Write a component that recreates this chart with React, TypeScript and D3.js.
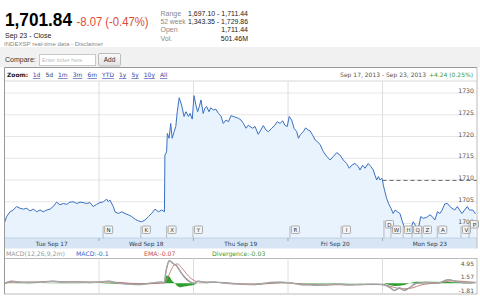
import React from "react";
import * as d3 from "d3";

const lastPrice = "1,701.84";
const changeText = "-8.07 (-0.47%)";
const closeLabel = "Sep 23 - Close";
const sourceLabel = "INDEXSP real-time data - Disclaimer";
const statLabels = ["Range", "52 week", "Open", "Vol."];
const statValues = ["1,697.10 - 1,711.44", "1,343.35 - 1,729.86", "1,711.44", "501.46M"];
const zoomLinks = ["1d", "5d", "1m", "3m", "6m", "YTD", "1y", "5y", "10y", "All"];
const rangeLabel = "Sep 17, 2013 - Sep 23, 2013";
const rangeChange = "+4.24 (0.25%)";
const dayLabels = ["Tue Sep 17", "Wed Sep 18", "Thu Sep 19", "Fri Sep 20", "Mon Sep 23"];
const priceTicks = [1700, 1705, 1710, 1715, 1720, 1725, 1730];
const prevClose = 1709.91;
const macdTicks = [4.95, 1.57, -1.81];
const macdHeader = ["MACD(12,26,9,2m)", "MACD:-0.1", "EMA:-0.07", "Divergence:-0.03"];

// trading minutes since Sep 17 open (390 per session)
const priceMinutes = [
  0, 9, 23, 36, 50, 64, 78, 92, 105, 119, 133, 147, 160, 174, 188, 201, 215, 229, 243, 257,
  270, 284, 298, 312, 325, 339, 353, 366, 380, 394, 408, 422, 428, 435, 449, 456, 470, 484, 497, 511,
  525, 539, 552, 566, 580, 594, 607, 621, 635, 649, 660, 662, 669, 672, 679, 686, 692, 700, 707, 713,
  721, 731, 741, 749, 759, 766, 775, 782, 790, 797, 804, 811, 820, 827, 834, 844, 851, 862, 872, 883,
  894, 903, 914, 924, 935, 944, 955, 965, 976, 986, 997, 1006, 1013, 1024, 1034, 1047, 1058, 1068, 1079, 1089,
  1103, 1116, 1126, 1137, 1148, 1157, 1167, 1175, 1185, 1195, 1206, 1213, 1222, 1233, 1243, 1252, 1261, 1272, 1282, 1291,
  1302, 1316, 1330, 1344, 1357, 1371, 1385, 1398, 1412, 1423, 1433, 1446, 1460, 1467, 1478, 1488, 1501, 1512, 1522, 1529,
  1536, 1543, 1550, 1557, 1560, 1563, 1570, 1577, 1585, 1595, 1604, 1612, 1622, 1632, 1640, 1649, 1663, 1670, 1677, 1687,
  1697, 1708, 1718, 1728, 1742, 1756, 1765, 1776, 1787, 1797, 1806, 1817, 1828, 1838, 1847, 1858, 1869, 1878, 1888, 1899,
  1910, 1919, 1933, 1944,
];
const priceValues = [
  1700.2, 1701.6, 1702.7, 1703.1, 1703.9, 1703.5, 1703.3, 1703.5, 1702.9, 1703.3, 1702.7, 1703.1, 1702.7, 1703.1, 1703.3, 1703.9, 1704.9, 1704.3, 1704.6, 1704.4,
  1704.9, 1705.0, 1704.6, 1704.9, 1704.8, 1704.6, 1704.8, 1703.9, 1704.4, 1704.8, 1705.0, 1705.6, 1705.0, 1705.4, 1703.9, 1702.7, 1702.3, 1702.7, 1702.3, 1702.0,
  1701.6, 1701.0, 1700.6, 1700.4, 1700.8, 1701.6, 1702.3, 1703.3, 1702.7, 1703.1, 1702.7, 1715.7, 1716.5, 1720.7, 1719.6, 1723.0, 1719.6, 1721.1, 1722.3, 1725.7,
  1728.9, 1727.2, 1724.6, 1725.7, 1724.6, 1725.3, 1724.0, 1729.4, 1727.2, 1725.7, 1726.9, 1728.4, 1725.3, 1726.5, 1726.9, 1725.7, 1726.6, 1726.1, 1726.3, 1725.3,
  1724.6, 1723.0, 1723.8, 1723.4, 1724.8, 1724.6, 1724.4, 1724.2, 1723.8, 1723.0, 1721.9, 1722.6, 1722.3, 1721.9, 1722.3, 1720.5, 1721.5, 1722.5, 1721.5, 1721.1,
  1721.9, 1722.6, 1723.4, 1723.0, 1723.6, 1722.6, 1722.3, 1724.6, 1723.8, 1721.9, 1721.1, 1719.6, 1720.5, 1721.1, 1722.0, 1721.5, 1721.3, 1720.3, 1719.2, 1718.8,
  1718.2, 1716.5, 1715.4, 1714.6, 1715.4, 1716.3, 1715.7, 1714.6, 1713.8, 1712.7, 1713.4, 1713.8, 1713.1, 1712.3, 1713.4, 1712.7, 1713.8, 1713.1, 1712.3, 1711.1,
  1710.0, 1710.8, 1710.0, 1710.4, 1710.0, 1708.9, 1707.3, 1705.8, 1704.6, 1703.5, 1702.3, 1703.1, 1702.7, 1702.3, 1700.8, 1699.3, 1698.2, 1697.6, 1699.0, 1700.4,
  1699.5, 1698.9, 1701.6, 1701.2, 1701.4, 1702.0, 1701.6, 1700.8, 1702.7, 1702.3, 1703.1, 1704.5, 1704.6, 1703.9, 1703.5, 1703.1, 1703.9, 1703.1, 1702.3, 1703.1,
  1703.9, 1703.1, 1703.1, 1702.2,
];

const flagLetters = ["N", "K", "X", "Y", "R", "I", "D", "W", "H", "Q", "Z", "A", "V", "P"];
const flagMinutes = [407, 563, 669, 778, 1178, 1389, 1566, 1595, 1645, 1682, 1723, 1786, 1884, 1917];
const flagLevels = [0, 0, 0, 0, 0, 0, 1, 0, 0, 0, 0, 0, 0, 1];

const macdMinutes = [
  0, 30, 60, 100, 150, 200, 250, 300, 350, 390, 430, 470, 520, 560, 600, 640, 660, 665, 672, 680,
  690, 700, 712, 725, 740, 760, 780, 800, 830, 870, 920, 970, 1020, 1060, 1100, 1140, 1180, 1220, 1260, 1300,
  1340, 1380, 1420, 1470, 1520, 1560, 1590, 1610, 1630, 1650, 1670, 1700, 1740, 1790, 1830, 1870, 1910, 1944,
];
const macdValues = [
  0.0, 0.5, 0.3, 0.2, 0.3, 0.5, 0.3, 0.4, 0.2, 0.3, 0.5, 0.0, -0.2, -0.3, 0.0, 0.3, 0.2, 2.5, 4.5, 5.7,
  5.3, 4.8, 4.3, 3.0, 1.8, 0.6, 0.0, 0.5, 0.2, 0.3, 0.0, -0.2, -0.3, -0.1, 0.2, 0.3, 0.1, -0.3, -0.4, -0.5,
  -0.3, -0.2, -0.4, -0.3, -0.2, -0.3, -1.0, -1.8, -1.2, -1.8, -1.2, 0.0, 0.2, 0.1, 0.9, 0.4, 0.1, 0.2,
];
const signalMinutes = [0, 40, 100, 200, 300, 390, 450, 520, 600, 660, 670, 685, 700, 715, 730, 750, 770, 800, 870, 970, 1060, 1140, 1220, 1300, 1420, 1560, 1600, 1640, 1680, 1720, 1790, 1850, 1944];
const signalValues = [0.0, 0.3, 0.3, 0.4, 0.35, 0.3, 0.3, 0.0, -0.1, 0.1, 1.0, 3.0, 4.6, 4.9, 4.0, 2.5, 1.2, 0.4, 0.25, -0.1, -0.2, 0.15, -0.1, -0.4, -0.35, -0.3, -0.9, -1.4, -1.2, -0.4, 0.1, 0.6, 0.2];
const divMinutes = [0, 100, 200, 390, 470, 560, 660, 664, 670, 680, 690, 700, 712, 725, 740, 760, 780, 800, 900, 1100, 1300, 1560, 1610, 1650, 1700, 1830, 1944];
const divValues = [0, -0.05, 0.1, 0, -0.2, -0.2, 0.1, 1.2, 2.0, 1.8, 0.8, 0.2, -0.6, -1.0, -0.8, -0.6, -0.4, 0.1, 0, 0.1, -0.1, 0, -0.7, -0.4, 0.4, 0.3, 0];

const SESSION = 390;
const NUM_DAYS = 5;

const HEAD_FONT = "'Liberation Sans', Arial, sans-serif";
const CHART_FONT = "'DejaVu Sans', Verdana, sans-serif";

export default function App() {
  const W = 480;
  const H = 298;
  const left = 4.5;
  const right = 477;
  const plotTop = 81;
  const plotBottom = 238;
  const bandBottom = 248.5;
  const macdTop = 258.5;
  const macdBottom = 294;

  const x = d3.scaleLinear().domain([0, SESSION * NUM_DAYS]).range([left, right]);
  const y = d3.scaleLinear().domain([1700, 1730]).range([223.5, 93]);
  const ym = d3.scaleLinear().domain([-2.7, 6.26]).range([macdBottom, macdTop]);

  const pts = priceMinutes.map((m, i) => [m, priceValues[i]] as [number, number]);
  const area = d3
    .area<[number, number]>()
    .x((d) => x(d[0]))
    .y0(plotBottom)
    .y1((d) => y(d[1]));
  const line = d3
    .line<[number, number]>()
    .x((d) => x(d[0]))
    .y((d) => y(d[1]));

  const macdPts = macdMinutes.map((m, i) => [m, macdValues[i]] as [number, number]);
  const sigPts = signalMinutes.map((m, i) => [m, signalValues[i]] as [number, number]);
  const divPts = divMinutes.map((m, i) => [m, divValues[i]] as [number, number]);
  const mline = d3
    .line<[number, number]>()
    .x((d) => x(d[0]))
    .y((d) => ym(d[1]))
    .curve(d3.curveMonotoneX);
  const divArea = d3
    .area<[number, number]>()
    .x((d) => x(d[0]))
    .y0(ym(0))
    .y1((d) => ym(d[1]))
    .curve(d3.curveMonotoneX);

  const dayBounds = d3.range(1, NUM_DAYS).map((i) => i * SESSION);

  return (
    <svg width={W} height={H} style={{ position: "absolute", left: 0, top: 0, background: "#fff" }}>
      <defs>
        <clipPath id="plotClip">
          <rect x={left} y={plotTop} width={right - left} height={plotBottom - plotTop} />
        </clipPath>
        <linearGradient id="btn" x1="0" y1="0" x2="0" y2="1">
          <stop offset="0" stopColor="#fafafa" />
          <stop offset="1" stopColor="#e2e2e2" />
        </linearGradient>
      </defs>
      <rect width={W} height={H} fill="#fff" />

      {/* Header */}
      <text x={5} y={26} fontFamily={HEAD_FONT} fontWeight="bold" fontSize={18} fill="#000" textLength={67} lengthAdjust="spacingAndGlyphs">
        {lastPrice}
      </text>
      <text x={76.5} y={25.5} fontFamily={HEAD_FONT} fontSize={12.5} fill="#dd4b39" textLength={72} lengthAdjust="spacingAndGlyphs">
        {changeText}
      </text>
      <text x={5} y={37.5} fontFamily={HEAD_FONT} fontSize={7} fill="#222">
        {closeLabel}
      </text>
      <text x={4} y={45.5} fontFamily={HEAD_FONT} fontSize={5.5} fill="#888" textLength={99} lengthAdjust="spacingAndGlyphs">
        {sourceLabel}
      </text>
      {statLabels.map((l, i) => (
        <g key={l}>
          <text x={160.5} y={15.5 + i * 8.4} fontFamily={HEAD_FONT} fontSize={7} fill="#888" textLength={i === 1 ? 25 : undefined} lengthAdjust="spacingAndGlyphs">
            {l}
          </text>
          {i < 2 ? (
            <text x={188} y={15.5 + i * 8.4} fontFamily={HEAD_FONT} fontSize={7} fill="#222" textLength={60} lengthAdjust="spacingAndGlyphs">
              {statValues[i]}
            </text>
          ) : (
            <text x={248} y={15.5 + i * 8.4} fontFamily={HEAD_FONT} fontSize={7} fill="#222" textAnchor="end">
              {statValues[i]}
            </text>
          )}
        </g>
      ))}

      {/* Compare bar */}
      <rect x={0} y={47} width={W} height={20.5} fill="#f1f1f1" />
      <text x={5} y={62} fontFamily={HEAD_FONT} fontSize={7} fill="#333">
        Compare:
      </text>
      <rect x={39.5} y={54.5} width={56} height={11} fill="#fff" stroke="#c8c8c8" />
      <text x={42} y={62} fontFamily={HEAD_FONT} fontSize={5.5} fill="#bbb">
        Enter ticker here
      </text>
      <rect x={98.5} y={53.5} width={22} height={12.5} rx={1.5} fill="url(#btn)" stroke="#bdbdbd" />
      <text x={109.5} y={62} fontFamily={HEAD_FONT} fontSize={6.5} fill="#333" textAnchor="middle">
        Add
      </text>

      {/* Zoom row */}
      <text x={7} y={77} fontFamily={CHART_FONT} fontSize={6} fill="#222">
        <tspan fontWeight="bold">Zoom:</tspan>
        {zoomLinks.map((z, i) => (
          <tspan key={z} dx={i === 0 ? 4.5 : 5} fill={z === "5d" ? "#333" : "#3344aa"} textDecoration={z === "5d" ? "none" : "underline"}>
            {z}
          </tspan>
        ))}
      </text>
      <text x={473} y={77} fontFamily={CHART_FONT} fontSize={6} fill="#555" textAnchor="end">
        <tspan>{rangeLabel}</tspan>
        <tspan dx={3} fill="#3a9a3a">
          {rangeChange}
        </tspan>
      </text>
      <line x1={left} x2={right} y1={plotTop} y2={plotTop} stroke="#d8d8d8" />

      {/* Gridlines */}
      {priceTicks.map((t) => (
        <line key={t} x1={left} x2={right} y1={y(t)} y2={y(t)} stroke="#e6e6e6" />
      ))}
      {dayBounds.map((m) => (
        <line key={m} x1={x(m)} x2={x(m)} y1={plotTop} y2={plotBottom} stroke="#dedede" />
      ))}

      {/* Price area + line */}
      <g clipPath="url(#plotClip)">
        <path d={area(pts) ?? ""} fill="#e9f3fd" />
        <path d={line(pts) ?? ""} fill="none" stroke="#3b6fc1" strokeWidth={1} strokeLinejoin="round" />
      </g>

      {/* Previous close */}
      <line x1={x(SESSION * 4)} x2={right} y1={y(prevClose)} y2={y(prevClose)} stroke="#666" strokeDasharray="4,3" />

      {/* Right axis labels */}
      {priceTicks.map((t) => (
        <text key={t} x={474} y={y(t)} fontFamily={CHART_FONT} fontSize={6.2} fill="#555" textAnchor="end">
          {t}
        </text>
      ))}

      {/* Flags */}
      {flagLetters.map((f, i) => {
        const sx = x(flagMinutes[i]);
        const by = 226 - flagLevels[i] * 5.5;
        return (
          <g key={f + i}>
            <line x1={sx} x2={sx} y1={by} y2={plotBottom} stroke="#aaa" strokeWidth={0.8} />
            <rect x={sx + 1.5} y={by} width={8} height={7.5} fill="#f5f5f5" stroke="#9a9a9a" strokeWidth={0.8} rx={0.8} />
            <text x={sx + 5.5} y={by + 6} fontFamily={CHART_FONT} fontSize={5.5} fill="#333" textAnchor="middle">
              {f}
            </text>
          </g>
        );
      })}

      {/* Time axis band */}
      <rect x={left} y={plotBottom} width={right - left} height={bandBottom - plotBottom} fill="#d7e5f5" />
      <line x1={left} x2={right} y1={plotBottom} y2={plotBottom} stroke="#b9cde4" strokeWidth={0.8} />
      {dayBounds.map((m) => (
        <line key={"t" + m} x1={x(m)} x2={x(m)} y1={plotBottom} y2={plotBottom + 3} stroke="#9ab" />
      ))}
      {dayLabels.map((d, i) => (
        <text key={d} x={x(SESSION * (i + 0.5))} y={246} fontFamily={CHART_FONT} fontSize={5.8} fill="#2a3b52" textAnchor="middle">
          {d}
        </text>
      ))}

      {/* MACD header */}
      <text x={6} y={255.5} fontFamily={CHART_FONT} fontSize={6.2} fill="#999">
        {macdHeader[0]}
      </text>
      <text x={76} y={255.5} fontFamily={CHART_FONT} fontSize={6.2} fill="#3366cc">
        {macdHeader[1]}
      </text>
      <text x={144} y={255.5} fontFamily={CHART_FONT} fontSize={6.2} fill="#c0504d">
        {macdHeader[2]}
      </text>
      <text x={212} y={255.5} fontFamily={CHART_FONT} fontSize={6.2} fill="#3a9a3a">
        {macdHeader[3]}
      </text>

      {/* MACD panel */}
      <rect x={left} y={macdTop} width={right - left} height={macdBottom - macdTop} fill="#fff" stroke="#aaa" strokeWidth={0.8} />
      {dayBounds.map((m) => (
        <line key={"m" + m} x1={x(m)} x2={x(m)} y1={macdTop} y2={macdBottom} stroke="#dedede" />
      ))}
      <path d={divArea(divPts) ?? ""} fill="#2e9e2e" />
      <path d={mline(sigPts) ?? ""} fill="none" stroke="#c98080" strokeWidth={1} />
      <path d={mline(macdPts) ?? ""} fill="none" stroke="#808080" strokeWidth={1.4} />
      <path d={mline(macdPts) ?? ""} fill="none" stroke="#d8d8d8" strokeWidth={0.5} />
      {macdTicks.map((t) => (
        <text key={t} x={474} y={ym(t) + 2.3} fontFamily={CHART_FONT} fontSize={6} fill="#555" textAnchor="end">
          {t.toFixed(2)}
        </text>
      ))}

      {/* Chart frame */}
      <line x1={left} x2={right} y1={67.5} y2={67.5} stroke="#999" />
      <line x1={left} x2={left} y1={67.5} y2={macdBottom} stroke="#999" />
      <line x1={right} x2={right} y1={67.5} y2={bandBottom} stroke="#bbb" />
    </svg>
  );
}
